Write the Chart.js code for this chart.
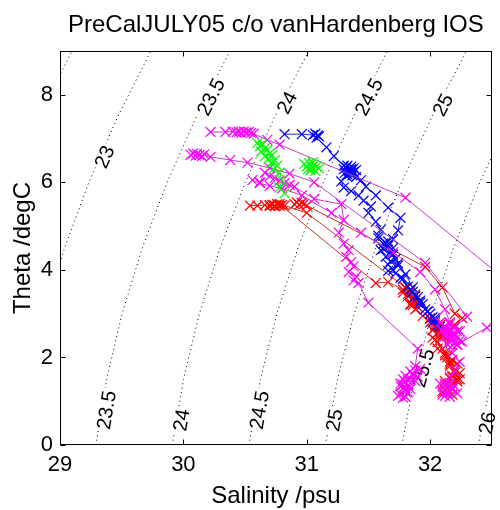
<!DOCTYPE html>
<html>
<head>
<meta charset="utf-8">
<title>PreCalJULY05 T-S</title>
<script src="https://cdn.jsdelivr.net/npm/chart.js@4.4.1/dist/chart.umd.min.js"></script>
<style>
  html, body { margin: 0; padding: 0; background: #fff; }
  #ts { display: block; }
</style>
</head>
<body>
<canvas id="ts" width="500" height="510"></canvas>
<script>
"use strict";

const FONT = '"Liberation Sans", Arial, Helvetica, sans-serif';

// axis ticks
const salTicks = [29, 30, 31, 32];
const thetaTicks = [0, 2, 4, 6, 8];

// sigma-theta isopycnals: salinity where each level crosses these theta values
const contourTheta = [0, 1.5, 3, 4.5, 6, 7.5, 9];
const sigmaLevels = [22.5, 23, 23.5, 24, 24.5, 25, 25.5, 26];
const sal225 = [28.051, 28.130, 28.249, 28.406, 28.600, 28.831, 29.097];
const sal230 = [28.671, 28.754, 28.876, 29.037, 29.234, 29.468, 29.736];
const sal235 = [29.291, 29.378, 29.503, 29.667, 29.868, 30.105, 30.376];
const sal240 = [29.911, 30.001, 30.130, 30.298, 30.502, 30.741, 31.016];
const sal245 = [30.531, 30.625, 30.758, 30.928, 31.135, 31.378, 31.655];
const sal250 = [31.151, 31.249, 31.385, 31.559, 31.769, 32.015, 32.295];
const sal255 = [31.771, 31.872, 32.012, 32.189, 32.403, 32.651, 32.934];
const sal260 = [32.391, 32.496, 32.639, 32.820, 33.036, 33.288, 33.574];
const contourSal = [sal225, sal230, sal235, sal240, sal245, sal250, sal255, sal260];

// inline isopycnal labels: level and where the text sits
const labelSigma = [23, 23.5, 24, 24.5, 25, 23.5, 24, 24.5, 25, 25.5, 26];
const labelSal   = [29.36, 30.224, 30.84, 31.504, 32.104, 29.376, 29.984, 30.616, 31.224, 31.944, 32.464];
const labelTheta = [6.58, 7.95, 7.82, 7.95, 7.77, 0.80, 0.57, 0.80, 0.57, 1.76, 0.50];

// CTD casts (salinity psu / potential temperature degC)
const magA_sal = [30.22, 30.34, 30.40, 30.43, 30.45, 30.47, 30.49, 30.51, 30.53, 30.55, 30.57, 30.68, 30.78, 31.80, 32.62, 32.70, 32.46, 32.26, 32.20, 32.16, 32.22, 32.14, 32.18];
const magA_th  = [7.15, 7.15, 7.16, 7.14, 7.15, 7.13, 7.16, 7.14, 7.15, 7.13, 7.11, 6.97, 6.86, 5.65, 3.75, 3.00, 2.68, 2.36, 2.55, 2.42, 2.28, 2.62, 2.48];
const magB_sal = [30.06, 30.08, 30.10, 30.11, 30.13, 30.15, 30.17, 30.22, 30.38, 30.52, 30.70, 30.86, 31.06, 31.96, 32.30, 32.20, 32.16, 32.22, 32.18, 32.24, 32.20, 32.16, 32.12, 32.18, 32.14, 32.10];
const magB_th  = [6.63, 6.66, 6.61, 6.65, 6.62, 6.60, 6.64, 6.58, 6.51, 6.45, 6.33, 6.20, 6.00, 4.16, 2.93, 2.70, 2.50, 2.30, 2.10, 1.90, 1.70, 1.55, 1.40, 1.30, 1.20, 1.15];
const magC_sal = [30.62, 30.66, 30.70, 30.74, 30.78, 30.82, 30.86, 30.90, 31.06, 31.28, 31.30, 31.26, 31.30, 31.34, 31.32, 31.36, 31.38, 31.34, 31.40, 31.38, 31.42, 31.50, 31.90, 31.88, 31.84, 31.80, 31.82, 31.78, 31.80, 31.76, 31.78];
const magC_th  = [6.00, 6.22, 6.14, 6.10, 6.04, 5.98, 5.94, 5.90, 5.62, 5.50, 5.14, 4.85, 4.60, 4.45, 4.30, 4.18, 4.08, 3.95, 3.85, 3.76, 3.70, 3.25, 2.20, 1.80, 1.68, 1.58, 1.48, 1.38, 1.26, 1.16, 1.08];
const magD_sal = [30.56, 30.62, 30.70, 30.80, 30.96, 31.20, 31.44, 31.70, 31.92, 32.04, 32.12, 32.16, 32.22, 32.18, 32.14];
const magD_th  = [6.05, 5.98, 5.92, 5.86, 5.70, 5.30, 4.85, 4.40, 3.95, 3.55, 3.10, 2.80, 2.60, 2.45, 2.30];
const magE_sal = [31.92, 31.88, 31.86, 31.90, 31.84, 31.88, 31.80, 31.76, 31.82, 31.80, 31.74, 31.78, 31.82, 31.76, 31.86, 31.80, 31.84, 31.78];
const magE_th  = [1.74, 1.70, 1.62, 1.56, 1.52, 1.46, 1.44, 1.34, 1.36, 1.22, 1.12, 1.30, 1.20, 1.40, 1.60, 1.10, 1.28, 1.50];
const magF_sal = [32.08, 32.12, 32.16, 32.20, 32.24, 32.14, 32.18, 32.22, 32.10, 32.16, 32.20, 32.12, 32.18, 32.24, 32.14];
const magF_th  = [2.80, 2.72, 2.76, 2.68, 2.60, 2.58, 2.52, 2.46, 2.62, 2.40, 2.34, 2.48, 2.28, 2.38, 2.66];
const magG_sal = [32.08, 32.12, 32.16, 32.20, 32.10, 32.14, 32.18, 32.22, 32.12, 32.16];
const magG_th  = [1.40, 1.36, 1.42, 1.34, 1.24, 1.20, 1.26, 1.18, 1.12, 1.10];

const blueA_sal = [30.82, 30.96, 31.05, 31.07, 31.09, 31.10, 31.08, 31.16, 31.22, 31.30, 31.34, 31.36, 31.38, 31.33, 31.40, 31.44, 31.48, 31.56, 31.66, 31.76, 31.74, 31.70, 31.66, 31.70, 31.74, 31.80, 31.86, 31.92, 31.98, 32.04, 32.08];
const blueA_th  = [7.10, 7.10, 7.08, 7.11, 7.07, 7.05, 7.02, 6.80, 6.60, 6.38, 6.28, 6.22, 6.32, 6.18, 6.12, 6.05, 5.90, 5.70, 5.42, 5.19, 4.90, 4.70, 4.55, 4.35, 4.15, 3.90, 3.60, 3.30, 3.05, 2.85, 2.70];
const blueB_sal = [31.30, 31.36, 31.32, 31.28, 31.30, 31.36, 31.42, 31.46, 31.52, 31.50, 31.56, 31.60, 31.58, 31.64, 31.62, 31.68, 31.72, 31.66, 31.70, 31.76, 31.82, 31.86, 31.90, 31.94, 31.98, 32.02];
const blueB_th  = [6.30, 6.26, 6.15, 6.02, 5.88, 5.80, 5.70, 5.58, 5.45, 5.30, 5.10, 4.92, 4.78, 4.62, 4.48, 4.36, 4.25, 4.12, 4.00, 3.82, 3.62, 3.50, 3.38, 3.22, 3.05, 2.92];
const blueC_sal = [31.32, 31.34, 31.36, 31.38, 31.35, 31.33, 31.37, 31.40, 31.31, 31.36];
const blueC_th  = [6.34, 6.26, 6.30, 6.24, 6.20, 6.38, 6.16, 6.28, 6.22, 6.36];
const blueD_sal = [31.58, 31.62, 31.66, 31.60, 31.70, 31.64, 31.68, 31.74, 31.66, 31.72, 31.78, 31.84, 31.88, 31.92, 31.96, 32.00, 32.04, 32.02, 32.06];
const blueD_th  = [4.72, 4.60, 4.65, 4.45, 4.50, 4.30, 4.20, 4.10, 3.98, 3.92, 3.80, 3.55, 3.40, 3.25, 3.10, 3.00, 2.90, 2.80, 2.74];

const redA_sal = [30.54, 30.60, 30.66, 30.70, 30.72, 30.74, 30.76, 30.78, 30.80, 30.82, 31.00, 31.80, 31.84, 31.88, 31.86, 31.90, 32.00, 32.04, 32.08, 32.10, 32.14, 32.12, 32.16, 32.20, 32.18, 32.22, 32.16, 32.12, 32.18];
const redA_th  = [5.47, 5.47, 5.48, 5.46, 5.49, 5.47, 5.50, 5.46, 5.48, 5.47, 5.30, 3.60, 3.45, 3.30, 3.20, 3.15, 2.90, 2.75, 2.60, 2.50, 2.30, 2.10, 1.90, 1.70, 1.55, 1.45, 1.35, 1.25, 1.15];
const redB_sal = [30.90, 30.92, 30.94, 30.96, 30.98, 31.00, 31.96, 32.10, 32.20, 32.26, 32.20, 32.16, 32.10, 32.04, 32.06, 32.12, 32.16, 32.20, 32.24, 32.18, 32.14, 32.10];
const redB_th  = [5.50, 5.54, 5.49, 5.53, 5.51, 5.47, 4.07, 3.60, 3.00, 2.90, 2.75, 2.62, 2.55, 2.40, 2.20, 2.05, 1.85, 1.65, 1.50, 1.40, 1.30, 1.20];
const redC_sal = [30.70, 30.74, 30.78, 31.56, 31.66, 31.78, 31.82, 31.86, 31.90, 31.84, 31.88, 31.94, 32.00, 32.04, 32.08, 32.02, 32.06, 32.10, 32.14];
const redC_th  = [5.48, 5.45, 5.50, 3.70, 3.72, 3.55, 3.45, 3.35, 3.25, 3.20, 3.10, 2.95, 2.80, 2.70, 2.55, 2.45, 2.35, 2.20, 2.05];
const redD_sal = [32.14, 32.18, 32.22, 32.16, 32.20, 32.24, 32.18, 32.22, 32.12, 32.16];
const redD_th  = [2.00, 1.94, 1.86, 1.80, 1.72, 1.64, 1.58, 1.50, 1.46, 1.52];
const redE_sal = [31.80, 31.84, 31.88, 31.82, 31.86, 31.90, 31.84, 31.78];
const redE_th  = [3.58, 3.52, 3.44, 3.40, 3.32, 3.26, 3.22, 3.48];
const redF_sal = [32.00, 32.04, 32.08, 32.12, 32.02, 32.06, 32.10, 32.14];
const redF_th  = [2.88, 2.80, 2.74, 2.66, 2.62, 2.56, 2.50, 2.48];

const greenA_sal = [30.60, 30.62, 30.64, 30.66, 30.63, 30.68, 30.70, 30.66, 30.72, 30.69, 30.74, 30.71, 30.76, 30.73, 30.78, 30.80, 30.78, 30.82];
const greenA_th  = [6.90, 6.82, 6.88, 6.78, 6.70, 6.74, 6.66, 6.60, 6.62, 6.54, 6.50, 6.44, 6.38, 6.30, 6.22, 6.05, 5.88, 5.75];
const greenB_sal = [30.98, 31.00, 31.02, 31.04, 31.06, 31.03, 31.08, 31.05, 31.10, 31.07, 31.01];
const greenB_th  = [6.42, 6.36, 6.44, 6.34, 6.40, 6.28, 6.36, 6.46, 6.32, 6.26, 6.30];

const toXY = (s, t) => s.map((v, i) => ({ x: v, y: t[i] }));

function castSet(sal, th, mark, line, order) {
    return {
        data: toXY(sal, th), showLine: true, order: order,
        borderColor: line, borderWidth: 1, tension: 0,
        pointStyle: 'crossRot', pointRadius: 7, pointBorderWidth: 1.2,
        pointBorderColor: mark, pointBackgroundColor: mark
    };
}

const datasets = [];
contourSal.forEach(sal => {
    datasets.push({
        data: toXY(sal, contourTheta), showLine: true, order: 10,
        borderColor: '#000', borderWidth: 1, borderDash: [1, 3.4],
        pointRadius: 0, tension: 0
    });
});
const MAG = '#ff00ff', MAGL = '#c040c0';
const RED = '#ff0000', REDL = '#c83220';
const BLU = '#0000ff', BLUL = '#2828c0';
const GRN = '#00ff00', GRNL = '#40d040';
[[redA_sal, redA_th], [redB_sal, redB_th], [redC_sal, redC_th], [redD_sal, redD_th], [redE_sal, redE_th], [redF_sal, redF_th]]
    .forEach(c => datasets.push(castSet(c[0], c[1], RED, REDL, 4)));
[[blueA_sal, blueA_th], [blueB_sal, blueB_th], [blueC_sal, blueC_th], [blueD_sal, blueD_th]]
    .forEach(c => datasets.push(castSet(c[0], c[1], BLU, BLUL, 3)));
[[magA_sal, magA_th], [magB_sal, magB_th], [magC_sal, magC_th], [magD_sal, magD_th], [magE_sal, magE_th], [magF_sal, magF_th], [magG_sal, magG_th]]
    .forEach(c => datasets.push(castSet(c[0], c[1], MAG, MAGL, 2)));
[[greenA_sal, greenA_th], [greenB_sal, greenB_th]]
    .forEach(c => datasets.push(castSet(c[0], c[1], GRN, GRNL, 1)));

// rotated isopycnal labels, drawn right after the dotted lines so the casts cover them
function drawContourLabels(chart) {
    const { ctx, scales: { x, y } } = chart;
    ctx.save();
    ctx.font = '20px ' + FONT;
    ctx.textAlign = 'center';
    ctx.textBaseline = 'middle';
    labelSigma.forEach((lvl, i) => {
        const sal = contourSal[sigmaLevels.indexOf(lvl)];
        const th = labelTheta[i];
        let k = 0;
        while (k < contourTheta.length - 2 && contourTheta[k + 1] < th) k++;
        const px = x.getPixelForValue(labelSal[i]), py = y.getPixelForValue(th);
        const dx = x.getPixelForValue(sal[k + 1]) - x.getPixelForValue(sal[k]);
        const dy = y.getPixelForValue(contourTheta[k + 1]) - y.getPixelForValue(contourTheta[k]);
        const text = String(lvl);
        const w = ctx.measureText(text).width;
        ctx.setTransform(1, 0, 0, 1, px, py);
        ctx.rotate(Math.atan2(dy, dx));
        ctx.fillStyle = '#fff';
        ctx.fillRect(-w / 2 - 2, -8, w + 4, 16);
        ctx.fillStyle = '#000';
        ctx.fillText(text, 0, 1);
    });
    ctx.restore();
}

// box with inward ticks on all four sides
function drawFrame(chart) {
    const { ctx, chartArea: a, scales: { x, y } } = chart;
    const L = Math.round(a.left) + 0.5, R = Math.round(a.right) - 0.5;
    const T = Math.round(a.top) + 0.5, B = Math.round(a.bottom) - 0.5;
    ctx.save();
    ctx.strokeStyle = '#000';
    ctx.lineWidth = 1;
    ctx.strokeRect(L, T, R - L, B - T);
    ctx.beginPath();
    salTicks.forEach(v => {
        const p = Math.round(x.getPixelForValue(v)) + 0.5;
        ctx.moveTo(p, B); ctx.lineTo(p, B - 5);
        ctx.moveTo(p, T); ctx.lineTo(p, T + 5);
    });
    thetaTicks.forEach(v => {
        const p = Math.round(y.getPixelForValue(v)) + 0.5;
        ctx.moveTo(L, p); ctx.lineTo(L + 5, p);
        ctx.moveTo(R, p); ctx.lineTo(R - 5, p);
    });
    ctx.stroke();
    ctx.restore();
}

function drawTitles(chart) {
    const { ctx, chartArea: a } = chart;
    const cx = (a.left + a.right) / 2;
    ctx.save();
    ctx.fillStyle = '#000';
    ctx.font = '24px ' + FONT;
    ctx.textAlign = 'center';
    ctx.textBaseline = 'alphabetic';
    ctx.fillText('PreCalJULY05 c/o vanHardenberg IOS', cx, 32);
    ctx.fillText('Salinity /psu', cx, 503);
    ctx.translate(30, (a.top + a.bottom) / 2);
    ctx.rotate(-Math.PI / 2);
    ctx.fillText('Theta /degC', 0, 0);
    ctx.restore();
}

const tsDecor = {
    id: 'tsDecor',
    afterDatasetDraw(chart, args) {
        if (args.index === 0) drawContourLabels(chart);
    },
    afterDatasetsDraw(chart) { drawFrame(chart); },
    afterDraw(chart) { drawTitles(chart); }
};

const tickFont = { family: FONT, size: 22 };

new Chart(document.getElementById('ts'), {
    type: 'scatter',
    data: { datasets: datasets },
    options: {
        responsive: false,
        animation: false,
        devicePixelRatio: 1,
        layout: { padding: { top: 51, right: 2.5, left: 0, bottom: 0 } },
        plugins: { legend: { display: false }, tooltip: { enabled: false }, title: { display: false } },
        scales: {
            x: {
                type: 'linear', min: 29, max: 32.5,
                grid: { display: false, drawTicks: false },
                border: { display: false },
                ticks: { font: tickFont, color: '#000', padding: 7, includeBounds: false },
                afterBuildTicks: s => { s.ticks = salTicks.map(v => ({ value: v })); },
                afterFit: s => { s.height = 65; }
            },
            y: {
                type: 'linear', min: 0, max: 9,
                grid: { display: false, drawTicks: false },
                border: { display: false },
                ticks: { font: tickFont, color: '#000', padding: 7, includeBounds: false },
                afterBuildTicks: s => { s.ticks = thetaTicks.map(v => ({ value: v })); },
                afterFit: s => { s.width = 60; }
            }
        }
    },
    plugins: [tsDecor]
});
</script>
</body>
</html>
